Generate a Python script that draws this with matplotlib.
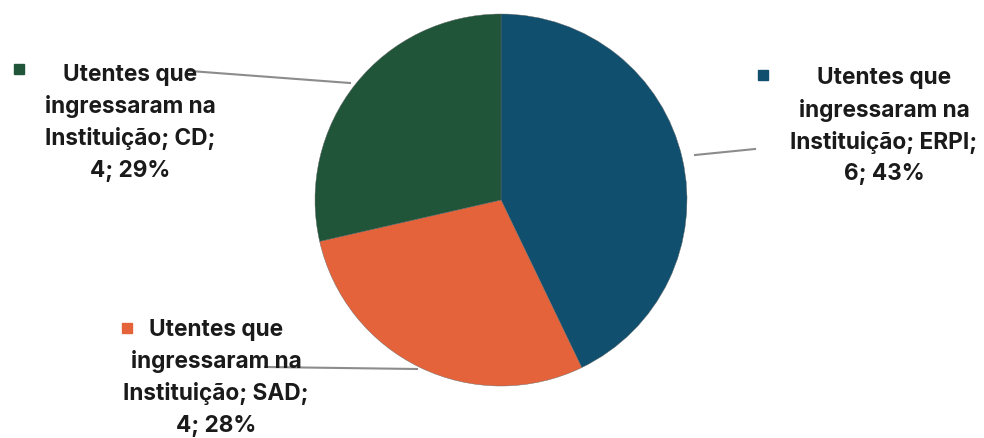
import matplotlib
matplotlib.use("Agg")
import matplotlib.pyplot as plt

categories = ["ERPI", "SAD", "CD"]
values = [6, 4, 4]
percent_labels = ["43%", "28%", "29%"]
series_name = "Utentes que ingressaram na Instituição"
colors = ["#114f6e", "#e5633a", "#20553a"]

W, H = 984, 439
fig = plt.figure(figsize=(W / 100, H / 100), dpi=100)
ax = fig.add_axes([0, 0, 1, 1])

def Y(y):
    return H - y

ax.pie(values, colors=colors, startangle=90, counterclock=False,
       center=(501, Y(201)), radius=186,
       wedgeprops=dict(linewidth=0.3, edgecolor="#666666"))
ax.set_xlim(0, W)
ax.set_ylim(0, H)
ax.set_aspect("equal")
ax.axis("off")

# label layout: (center x, first line y, marker x, marker y)
layout = {
    "ERPI": (884, 78, 763, 76),
    "SAD": (216, 330, 127, 329),
    "CD": (130, 75, 19, 70),
}
leaders = {
    "ERPI": ((695, 156), (755, 150)),
    "SAD": ((265, 368), (417, 370)),
    "CD": ((190, 72), (350, 84)),
}
font = dict(family=["Inter", "DejaVu Sans"], fontweight="bold", fontsize=16.3, color="#1a1a1a")

for i, cat in enumerate(categories):
    cx, y0, mx, my = layout[cat]
    lines = ["Utentes que", "ingressaram na", f"Instituição; {cat};", f"{values[i]}; {percent_labels[i]}"]
    (x1, y1), (x2, y2) = leaders[cat]
    ax.plot([x1, x2], [Y(y1), Y(y2)], color="#8c8c8c", linewidth=1.5, zorder=1)
    for k, line in enumerate(lines):
        ax.text(cx, Y(y0 + 32 * k), line, ha="center", va="center", zorder=3, **font)
    ax.plot([mx], [Y(my)], marker="s", markersize=7.5, color=colors[i], linestyle="none")

fig.savefig("out.png", dpi=100)
